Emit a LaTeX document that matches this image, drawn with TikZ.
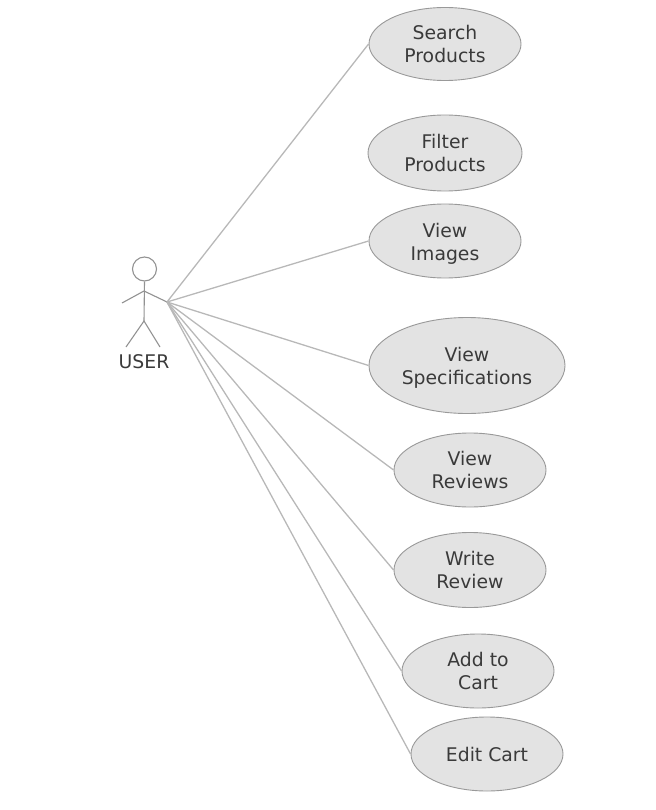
\documentclass[tikz,border=0pt]{standalone}
\usepackage{fontspec}
\setmainfont{DejaVu Sans}
\usetikzlibrary{shapes.geometric}
\definecolor{uclfill}{HTML}{E3E3E3}
\definecolor{uclline}{HTML}{999999}
\definecolor{linkc}{HTML}{B8B8B8}
\definecolor{figc}{HTML}{929292}
\definecolor{txtc}{HTML}{3A3A3A}
\tikzset{
 usecase/.style={ellipse,draw=uclline,fill=uclfill,line width=0.9pt,inner sep=0pt,align=center,text=txtc,
   font=\fontsize{18.8}{23}\selectfont},
 link/.style={draw=linkc,line width=1.3pt},
 fig/.style={draw=figc,line width=1.1pt},
 actorlabel/.style={text=txtc,font=\fontsize{18.8}{20}\selectfont,inner sep=0pt}
}
\begin{document}
\begin{tikzpicture}[x=1pt,y=-1pt]
\useasboundingbox (0,0) rectangle (655,810);
\node[usecase,minimum width=152pt,minimum height=73pt] (search) at (445,44) {Search\\Products};
\node[usecase,minimum width=154pt,minimum height=76pt] (filter) at (445,153) {Filter\\Products};
\node[usecase,minimum width=152pt,minimum height=74pt] (images) at (445,241) {\rule{0pt}{20pt}View\\Images};
\node[usecase,minimum width=196pt,minimum height=96pt] (specs) at (467,365.5) {\rule{0pt}{18pt}View\\Specifications};
\node[usecase,minimum width=152pt,minimum height=74pt] (reviews) at (470,470) {View\\Reviews};
\node[usecase,minimum width=152pt,minimum height=75pt] (write) at (470,570) {Write\\Review};
\node[usecase,minimum width=152pt,minimum height=74pt] (cart) at (478,671) {Add to\\Cart};
\node[usecase,minimum width=152pt,minimum height=74pt] (edit) at (487,754) {Edit Cart};
\node[circle,draw=figc,line width=1.1pt,minimum size=24pt,inner sep=0pt] (head) at (144.5,269) {};
\coordinate (shoulder) at (144,291);
\coordinate (hip) at (144,321);
\coordinate (lhand) at (122,303);
\coordinate (hub) at (167,302);
\coordinate (lfoot) at (126,347);
\coordinate (rfoot) at (160,347);
\node[actorlabel] (user) at (144,362) {USER};
\draw[fig] (head.south) -- (hip);
\draw[fig] (lhand) -- (shoulder) -- (hub);
\draw[fig] (lfoot) -- (hip) -- (rfoot);
\foreach \t in {search,images,specs,reviews,write,cart,edit}
  \draw[link] (hub) -- (\t.west);
\end{tikzpicture}
\end{document}
